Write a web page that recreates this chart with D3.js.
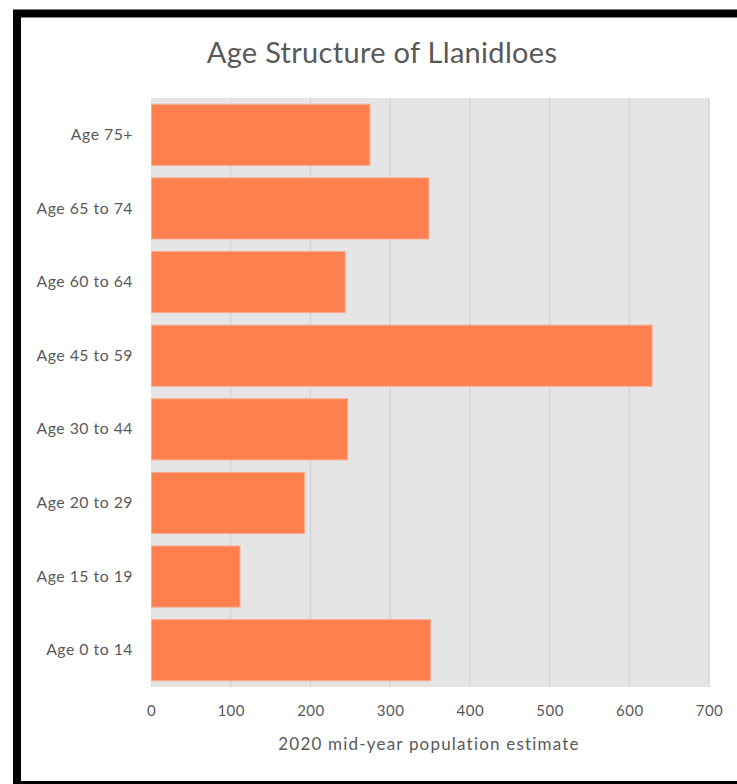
<!DOCTYPE html>
<html>
<head>
<meta charset="utf-8">
<script src="https://cdn.jsdelivr.net/npm/d3@7"></script>
<style>
  html, body { margin: 0; padding: 0; background: #fff; }
  svg { display: block; }
  text { font-family: Lato, "Open Sans", sans-serif; fill: #595959; }
</style>
</head>
<body>
<div class="chart-sec"></div>
<script>
(function(){
  'use strict';

  var categories = ['Age 75+', 'Age 65 to 74', 'Age 60 to 64', 'Age 45 to 59',
                    'Age 30 to 44', 'Age 20 to 29', 'Age 15 to 19', 'Age 0 to 14'];
  var population = [274, 348, 243, 628, 246, 192, 111, 350];
  var xTicks = [0, 100, 200, 300, 400, 500, 600, 700];

  var width = 737, height = 784;
  var plot = {left: 151, right: 709, top: 98, bottom: 687};

  var svg = d3.select('.chart-sec').append('svg')
    .attr('width', width).attr('height', height);

  // outer frame
  svg.append('rect')
    .attr('x', 17).attr('y', 13.5)
    .attr('width', 760).attr('height', 771.5)
    .attr('fill', '#fff').attr('stroke', '#000').attr('stroke-width', 8);

  var x = d3.scaleLinear().domain([0, 700]).range([plot.left, plot.right]);
  var y = d3.scaleBand().domain(categories)
    .range([plot.top, plot.bottom])
    .paddingInner(0.17).paddingOuter(0.085);

  svg.append('rect')
    .attr('x', plot.left).attr('y', plot.top)
    .attr('width', plot.right - plot.left).attr('height', plot.bottom - plot.top)
    .attr('fill', '#e5e5e5');

  // gridlines
  svg.append('g').selectAll('line')
    .data(xTicks.slice(1))
    .enter().append('line')
    .attr('x1', function(d){ return x(d); }).attr('x2', function(d){ return x(d); })
    .attr('y1', plot.top).attr('y2', plot.bottom)
    .attr('stroke', '#d6d6d6').attr('stroke-width', 1.5);

  // bars
  svg.append('g').selectAll('rect')
    .data(population)
    .enter().append('rect')
    .attr('x', x(0) + 0.5)
    .attr('y', function(d, i){ return y(categories[i]); })
    .attr('width', function(d){ return x(d) - x(0); })
    .attr('height', y.bandwidth())
    .attr('fill', '#ff7f4f')
    .attr('stroke', '#f9ab8e').attr('stroke-width', 1);

  // x axis
  var xAxis = d3.axisBottom(x).tickValues(xTicks).tickSize(0).tickPadding(18);
  var gx = svg.append('g').attr('transform', 'translate(0,' + plot.bottom + ')').call(xAxis);
  gx.select('.domain').remove();
  gx.selectAll('text').style('font-size', '15px').style('letter-spacing', '0.5px')
    .style('fill', '#595959').style('font-family', 'Lato, "Open Sans", sans-serif');

  // y axis
  var yAxis = d3.axisLeft(y).tickSize(0).tickPadding(18);
  var gy = svg.append('g').attr('transform', 'translate(' + plot.left + ',0)').call(yAxis);
  gy.select('.domain').remove();
  gy.selectAll('text').style('font-size', '15.8px').style('letter-spacing', '0.5px')
    .style('fill', '#595959').style('font-family', 'Lato, "Open Sans", sans-serif');

  svg.append('text')
    .attr('x', 382).attr('y', 63)
    .attr('text-anchor', 'middle')
    .style('font-size', '29px').style('letter-spacing', '0.3px')
    .text('Age Structure of Llanidloes');

  svg.append('text')
    .attr('x', 429).attr('y', 750)
    .attr('text-anchor', 'middle')
    .style('font-size', '17px').style('letter-spacing', '1.2px')
    .text('2020 mid-year population estimate');

})();
</script>
</body>
</html>
